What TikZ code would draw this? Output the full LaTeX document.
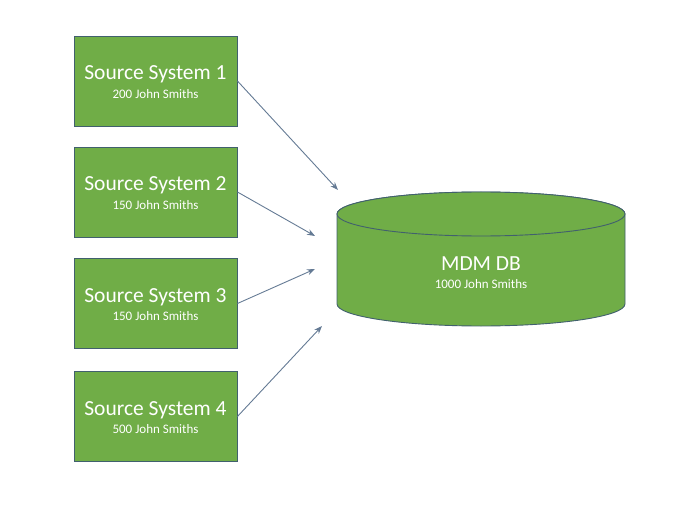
\documentclass[tikz,border=0pt]{standalone}
\usepackage{fontspec}
\setmainfont{Carlito}
\usetikzlibrary{arrows.meta}
\definecolor{boxgreen}{HTML}{70AD47}
\definecolor{boxedge}{HTML}{41606E}
\definecolor{arrowc}{HTML}{647A94}
\tikzset{
  srcbox/.style={draw=boxedge, line width=0.9bp, fill=boxgreen, minimum width=163bp, minimum height=90bp, inner sep=0pt},
  link/.style={draw=arrowc, line width=0.9bp, -{Stealth[length=8bp,width=6bp]}},
  ttl/.style={text=white, inner sep=0pt, font=\fontsize{21.5bp}{24bp}\selectfont},
  sub/.style={text=white, inner sep=0pt, font=\fontsize{13bp}{15bp}\selectfont},
}
\begin{document}
\begin{tikzpicture}[x=1bp,y=-1bp]
\useasboundingbox (0,0) rectangle (678,526);
\foreach \i/\y/\n in {1/81/200, 2/192/150, 3/303.5/150, 4/416.5/500}{
  \node[srcbox] (b\i) at (155.5,\y) {};
  \node[ttl] (t\i) at ([yshift=6.5bp]b\i.center) {Source System \i};
  \node[sub] (s\i) at ([yshift=-13bp]b\i.center) {\n\ John Smiths};
}
% cylinder
\draw[draw=boxedge, line width=0.9bp, fill=boxgreen]
  (337,214) -- (337,304) arc[start angle=180, end angle=360, x radius=144, y radius=-22] -- (625,214)
  arc[start angle=0, end angle=180, x radius=144, y radius=-22] -- cycle;
\draw[draw=boxedge, line width=0.9bp, fill=boxgreen] (481,214) ellipse[x radius=144, y radius=22];
\node[ttl] (db) at (481,264) {MDM DB};
\node[sub] (dbs) at (481,284) {1000 John Smiths};
\coordinate (e1) at (338,190);
\coordinate (e2) at (315,236);
\coordinate (e3) at (315,269);
\coordinate (e4) at (322,326);
\draw[link] (b1.east) -- (e1);
\draw[link] (b2.east) -- (e2);
\draw[link] (b3.east) -- (e3);
\draw[link] (b4.east) -- (e4);
\end{tikzpicture}
\end{document}
